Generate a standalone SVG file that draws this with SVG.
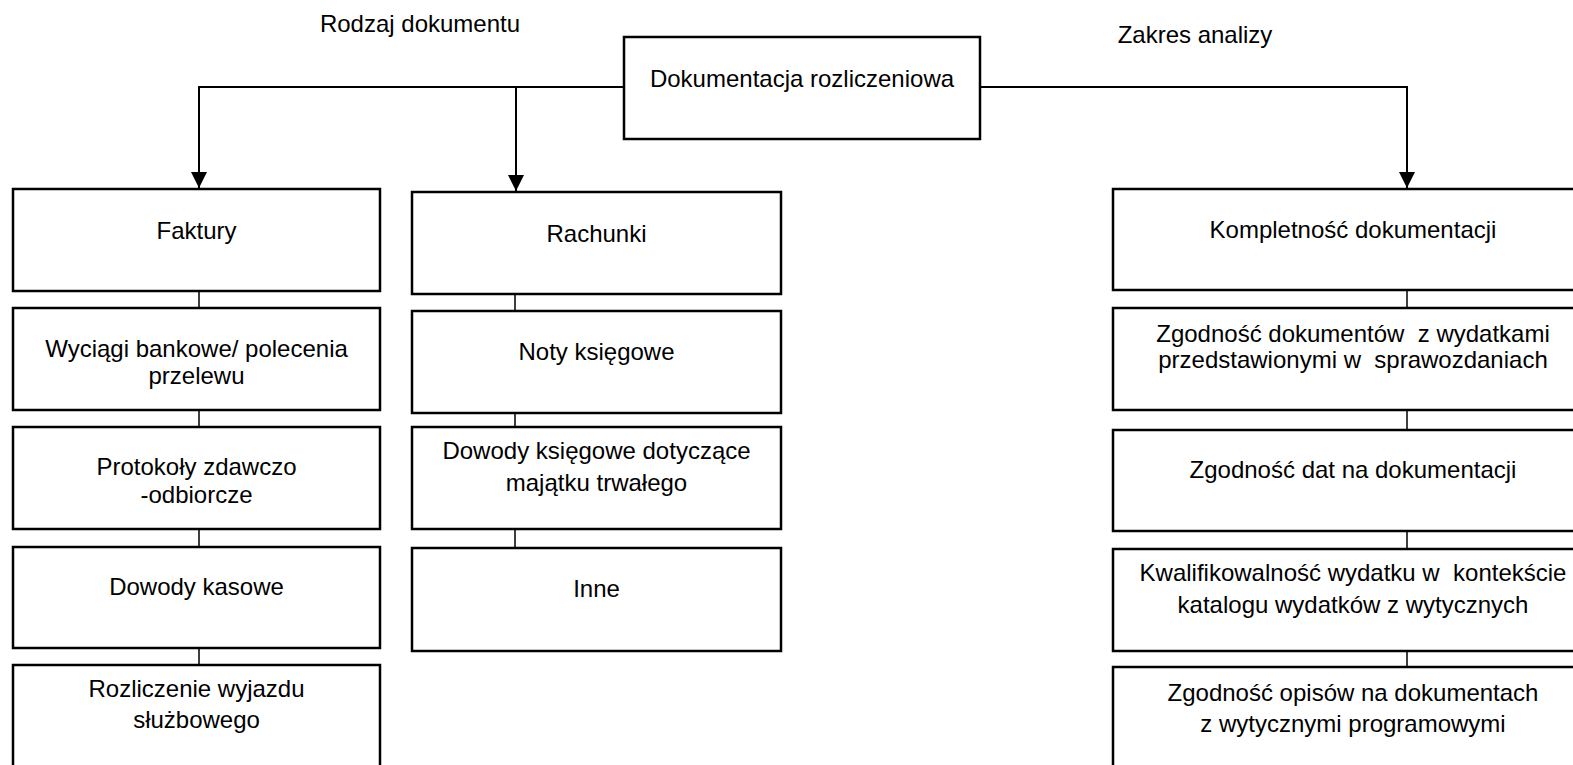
<svg xmlns="http://www.w3.org/2000/svg" width="1573" height="765" viewBox="0 0 1573 765">
  <style>
    .box { fill: #ffffff; stroke: #000000; stroke-width: 2.5; }
    .lbl { font-family: "Liberation Sans", Arial, sans-serif; font-size: 24px; fill: #000000; text-anchor: middle; white-space: pre; }
    .main { fill: none; stroke: #000000; stroke-width: 2; }
    .link { fill: none; stroke: #000000; stroke-width: 1.5; }
  </style>
  <defs>
    <marker id="arrow" viewBox="0 0 16 16" refX="16" refY="8" markerWidth="16" markerHeight="16" markerUnits="userSpaceOnUse" orient="auto">
      <path d="M0,0 L16,8 L0,16 Z" fill="#000000"/>
    </marker>
  </defs>
  <rect width="1573" height="765" fill="#ffffff"/>

  <!-- branch captions -->
  <text class="lbl" x="420" y="32">Rodzaj dokumentu</text>
  <text class="lbl" x="1195" y="43">Zakres analizy</text>

  <!-- connectors -->
  <g id="connectors">
    <path class="main" d="M624,87 H199 V188" marker-end="url(#arrow)"/>
    <path class="main" d="M516,87 V191" marker-end="url(#arrow)"/>
    <path class="main" d="M980,87 H1407 V188" marker-end="url(#arrow)"/>
    <path class="link" d="M199,291 V308 M199,410 V427 M199,529 V547 M199,648 V665"/>
    <path class="link" d="M515,294 V311 M515,413 V427 M515,529 V548"/>
    <path class="link" d="M1407,290 V308 M1407,410 V430 M1407,531 V549 M1407,648 V667"/>
  </g>

  <!-- root -->
  <g id="root">
    <rect class="box" x="624" y="37" width="356" height="102"/>
    <text class="lbl" x="802" y="87">Dokumentacja rozliczeniowa</text>
  </g>

  <!-- document types, first column -->
  <g id="faktury">
    <rect class="box" x="13" y="189" width="367" height="102"/>
    <text class="lbl" x="196.5" y="239">Faktury</text>
  </g>
  <g id="wyciagi">
    <rect class="box" x="13" y="308" width="367" height="102"/>
    <text class="lbl" x="196.5" y="357">Wyciągi bankowe/ polecenia</text>
    <text class="lbl" x="196.5" y="384">przelewu</text>
  </g>
  <g id="protokoly">
    <rect class="box" x="13" y="427" width="367" height="102"/>
    <text class="lbl" x="196.5" y="475">Protokoły zdawczo</text>
    <text class="lbl" x="196.5" y="503">-odbiorcze</text>
  </g>
  <g id="dowody-kasowe">
    <rect class="box" x="13" y="547" width="367" height="101"/>
    <text class="lbl" x="196.5" y="595">Dowody kasowe</text>
  </g>
  <g id="rozliczenie">
    <rect class="box" x="13" y="665" width="367" height="120"/>
    <text class="lbl" x="196.5" y="697">Rozliczenie wyjazdu</text>
    <text class="lbl" x="196.5" y="728">służbowego</text>
  </g>

  <!-- document types, second column -->
  <g id="rachunki">
    <rect class="box" x="412" y="192" width="369" height="102"/>
    <text class="lbl" x="596.5" y="242">Rachunki</text>
  </g>
  <g id="noty">
    <rect class="box" x="412" y="311" width="369" height="102"/>
    <text class="lbl" x="596.5" y="360">Noty księgowe</text>
  </g>
  <g id="dowody-ksiegowe">
    <rect class="box" x="412" y="427" width="369" height="102"/>
    <text class="lbl" x="596.5" y="459">Dowody księgowe dotyczące</text>
    <text class="lbl" x="596.5" y="491">majątku trwałego</text>
  </g>
  <g id="inne">
    <rect class="box" x="412" y="548" width="369" height="103"/>
    <text class="lbl" x="596.5" y="597">Inne</text>
  </g>

  <!-- scope of analysis -->
  <g id="kompletnosc">
    <rect class="box" x="1113" y="189" width="600" height="101"/>
    <text class="lbl" x="1353" y="238">Kompletność dokumentacji</text>
  </g>
  <g id="zgodnosc-dokumentow">
    <rect class="box" x="1113" y="308" width="600" height="102"/>
    <text class="lbl" x="1353" y="342">Zgodność dokumentów  z wydatkami</text>
    <text class="lbl" x="1353" y="368">przedstawionymi w  sprawozdaniach</text>
  </g>
  <g id="zgodnosc-dat">
    <rect class="box" x="1113" y="430" width="600" height="101"/>
    <text class="lbl" x="1353" y="478">Zgodność dat na dokumentacji</text>
  </g>
  <g id="kwalifikowalnosc">
    <rect class="box" x="1113" y="549" width="600" height="102"/>
    <text class="lbl" x="1353" y="581">Kwalifikowalność wydatku w  kontekście</text>
    <text class="lbl" x="1353" y="613">katalogu wydatków z wytycznych</text>
  </g>
  <g id="zgodnosc-opisow">
    <rect class="box" x="1113" y="667" width="600" height="120"/>
    <text class="lbl" x="1353" y="701">Zgodność opisów na dokumentach</text>
    <text class="lbl" x="1353" y="732">z wytycznymi programowymi</text>
  </g>
</svg>
